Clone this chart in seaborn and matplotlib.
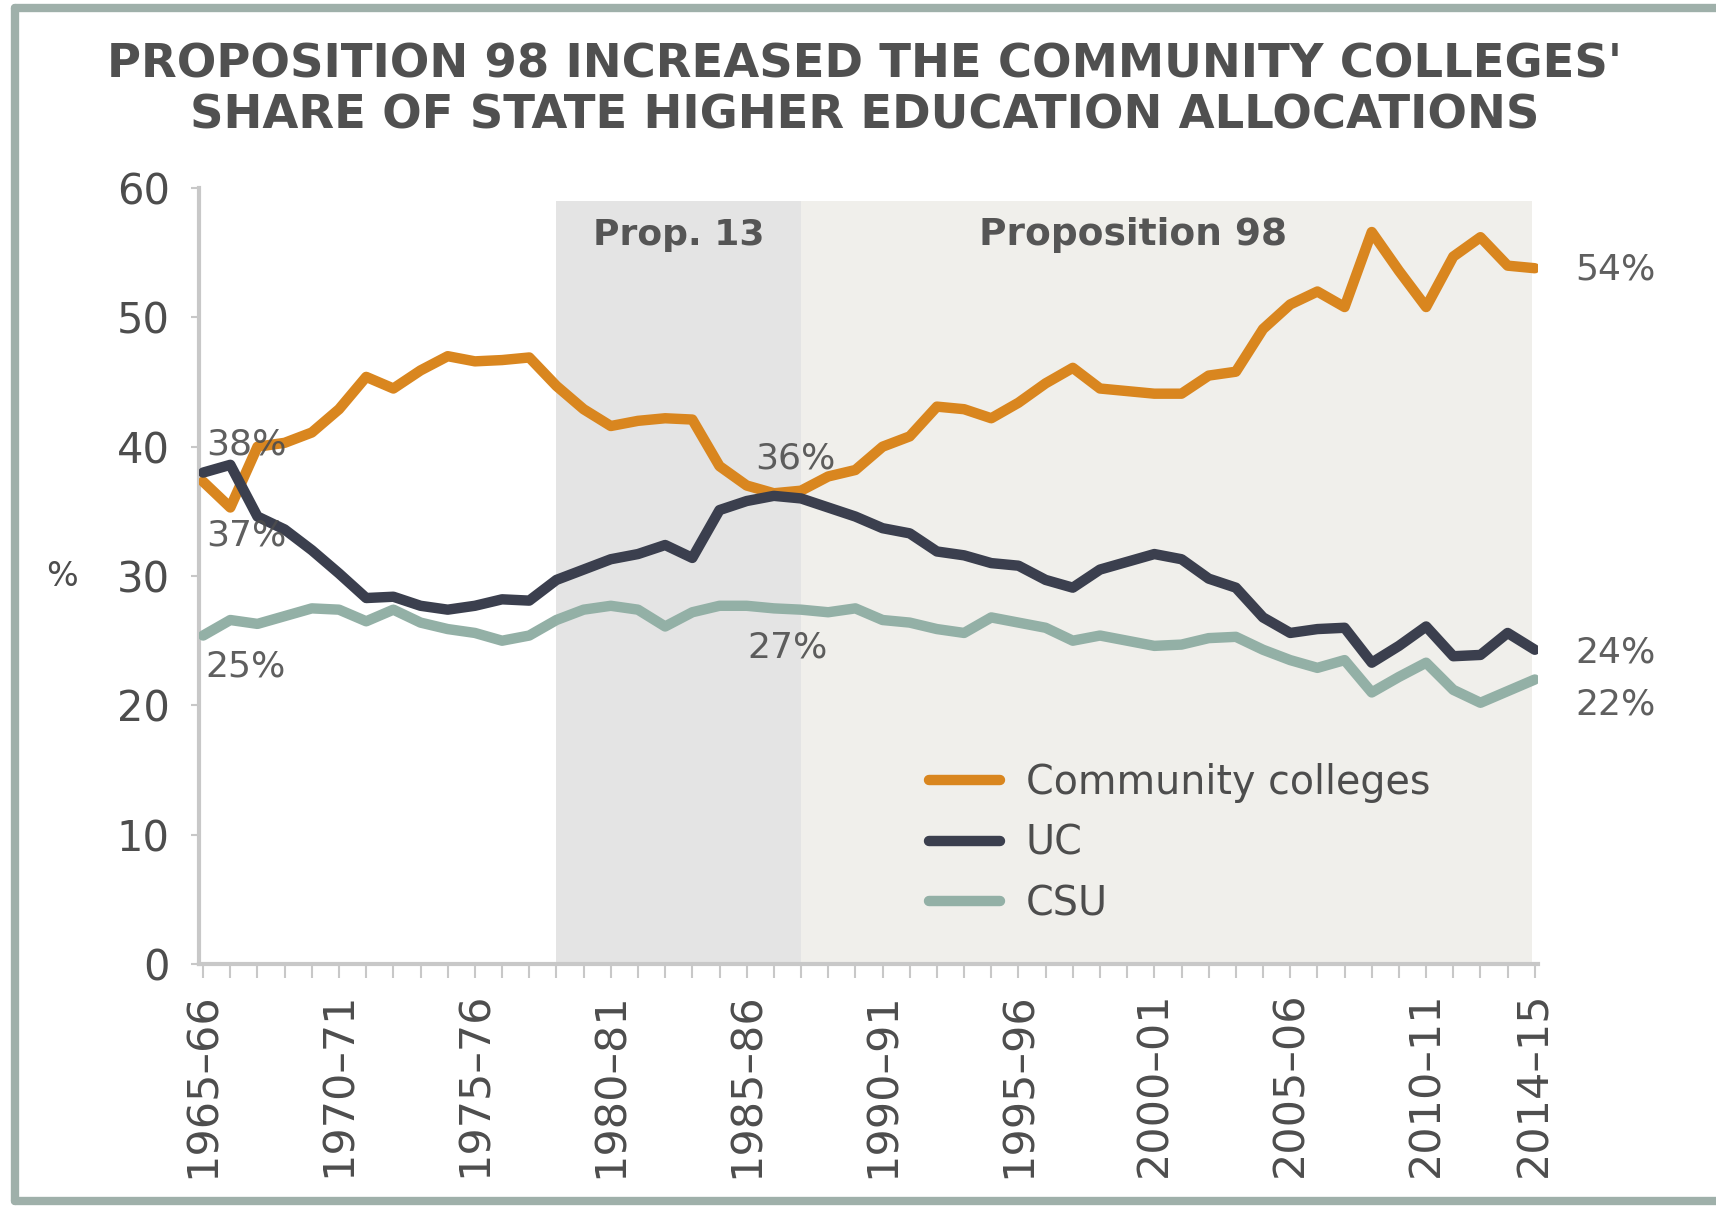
import matplotlib
matplotlib.use("Agg")
import matplotlib.pyplot as plt
import seaborn as sns
import pandas as pd
from matplotlib.lines import Line2D

# academic years 1965-66 .. 2014-15
years = [f"{y}\u2013{str(y + 1)[-2:]}" for y in range(1965, 2015)]

community = [37.3, 35.3, 40.0, 40.3, 41.1, 42.9, 45.4, 44.5, 45.9, 47.0,
             46.6, 46.7, 46.9, 44.7, 42.9, 41.6, 42.0, 42.2, 42.1, 38.5,
             37.0, 36.4, 36.6, 37.7, 38.2, 40.0, 40.8, 43.1, 42.9, 42.2,
             43.4, 44.9, 46.1, 44.5, 44.3, 44.1, 44.1, 45.5, 45.8, 49.1,
             51.0, 52.0, 50.8, 56.6, 53.6, 50.8, 54.7, 56.2, 54.0, 53.8]
uc = [38.0, 38.6, 34.6, 33.6, 32.0, 30.2, 28.3, 28.4, 27.7, 27.4,
      27.7, 28.2, 28.1, 29.7, 30.5, 31.3, 31.7, 32.4, 31.4, 35.1,
      35.8, 36.2, 36.0, 35.3, 34.6, 33.7, 33.3, 31.9, 31.6, 31.0,
      30.8, 29.7, 29.1, 30.5, 31.1, 31.7, 31.3, 29.8, 29.1, 26.8,
      25.6, 25.9, 26.0, 23.3, 24.6, 26.1, 23.8, 23.9, 25.6, 24.3]
csu = [25.4, 26.6, 26.3, 26.9, 27.5, 27.4, 26.5, 27.4, 26.4, 25.9,
       25.6, 25.0, 25.4, 26.6, 27.4, 27.7, 27.4, 26.1, 27.2, 27.7,
       27.7, 27.5, 27.4, 27.2, 27.5, 26.6, 26.4, 25.9, 25.6, 26.8,
       26.4, 26.0, 25.0, 25.4, 25.0, 24.6, 24.7, 25.2, 25.3, 24.3,
       23.5, 22.9, 23.5, 21.0, 22.2, 23.3, 21.2, 20.2, 21.1, 22.0]

series_names = ["Community colleges", "UC", "CSU"]
colors = ["#d9861f", "#3b3f4e", "#93b0a6"]
tick_years = ["1965\u201366", "1970\u201371", "1975\u201376", "1980\u201381", "1985\u201386",
              "1990\u201391", "1995\u201396", "2000\u201301", "2005\u201306", "2010\u201311",
              "2014\u201315"]

df = pd.DataFrame({"idx": list(range(len(years))) * 3,
                   "share": community + uc + csu,
                   "sector": [s for s in series_names for _ in years]})

sns.set_theme(style="white")
plt.rcParams["font.family"] = ["DejaVu Sans"]
text_grey = "#4d4d4d"

fig = plt.figure(figsize=(17.16, 12.07), dpi=100)
ax = fig.add_axes([0.116, 0.2013, 0.78, 0.6429])

# shaded periods
ax.fill_between([years.index("1978\u201379"), years.index("1987\u201388")], 0, 59,
                color="#e4e4e4", zorder=0, lw=0)
ax.fill_between([years.index("1987\u201388"), 48.9], 0, 59,
                color="#f0efeb", zorder=0, lw=0)
ax.text(17.5, 56.4, "Prop. 13", ha="center", va="center", fontsize=26,
        fontweight="bold", color="#555555")
ax.text(34.2, 56.4, "Proposition 98", ha="center", va="center", fontsize=27,
        fontweight="bold", color="#555555")

sns.lineplot(data=df, x="idx", y="share", hue="sector", hue_order=series_names,
             palette=colors, linewidth=7.5, ax=ax, legend=False, zorder=3)

ax.set_xlim(-0.15, 49.1)
ax.set_ylim(0, 60)
ax.set_xlabel("")
ax.set_ylabel("")
fig.text(0.036, 0.522, "%", ha="center", va="center", fontsize=24, color=text_grey)

ax.set_yticks(range(0, 61, 10))
ax.set_xticks([years.index(t) for t in tick_years])
ax.set_xticklabels(tick_years, rotation=90)
ax.set_xticks(range(len(years)), minor=True)
ax.tick_params(axis="y", left=True, length=6, width=1.5, color="#c8c8c8",
               labelsize=30, labelcolor=text_grey, pad=15)
ax.tick_params(axis="x", which="both", bottom=True, length=10, width=1.5,
               color="#c8c8c8", labelsize=31, labelcolor=text_grey, pad=10)
for side in ["top", "right"]:
    ax.spines[side].set_visible(False)
for side in ["left", "bottom"]:
    ax.spines[side].set_color("#c8c8c8")
    ax.spines[side].set_linewidth(3)

# value labels
lab = dict(fontsize=26, color=text_grey, alpha=0.9)
ax.text(0.1, 40.2, "38%", ha="left", va="center", **lab)
ax.text(0.1, 33.1, "37%", ha="left", va="center", **lab)
ax.text(0.1, 23.0, "25%", ha="left", va="center", **lab)
ax.text(21.8, 39.1, "36%", ha="center", va="center", **lab)
ax.text(21.5, 24.5, "27%", ha="center", va="center", **lab)
ax.text(50.5, 53.7, "54%", ha="left", va="center", clip_on=False, **lab)
ax.text(50.5, 24.1, "24%", ha="left", va="center", clip_on=False, **lab)
ax.text(50.5, 20.1, "22%", ha="left", va="center", clip_on=False, **lab)

handles = [Line2D([0], [0], color=c, lw=7.5) for c in colors]
ax.legend(handles, series_names, loc="center left", bbox_to_anchor=(0.545, 0.155),
          frameon=False, fontsize=28.5, handlelength=1.8, labelspacing=0.52,
          handletextpad=0.65, borderpad=0, borderaxespad=0, labelcolor=text_grey)

fig.text(0.504, 0.946, "PROPOSITION 98 INCREASED THE COMMUNITY COLLEGES'",
         ha="center", va="center", fontsize=33.5, fontweight="bold", color="#505050")
fig.text(0.504, 0.9037, "SHARE OF STATE HIGHER EDUCATION ALLOCATIONS",
         ha="center", va="center", fontsize=33.5, fontweight="bold", color="#505050")

# outer frame
frame_c = "#9fb0aa"
fig.add_artist(Line2D([0.009, 0.009], [0.005, 0.993], color=frame_c, lw=6, transform=fig.transFigure))
fig.add_artist(Line2D([0.009, 1.0], [0.993, 0.993], color=frame_c, lw=6, transform=fig.transFigure))
fig.add_artist(Line2D([0.009, 1.0], [0.005, 0.005], color=frame_c, lw=6, transform=fig.transFigure))

fig.savefig("out.png", dpi=100, facecolor="white")
